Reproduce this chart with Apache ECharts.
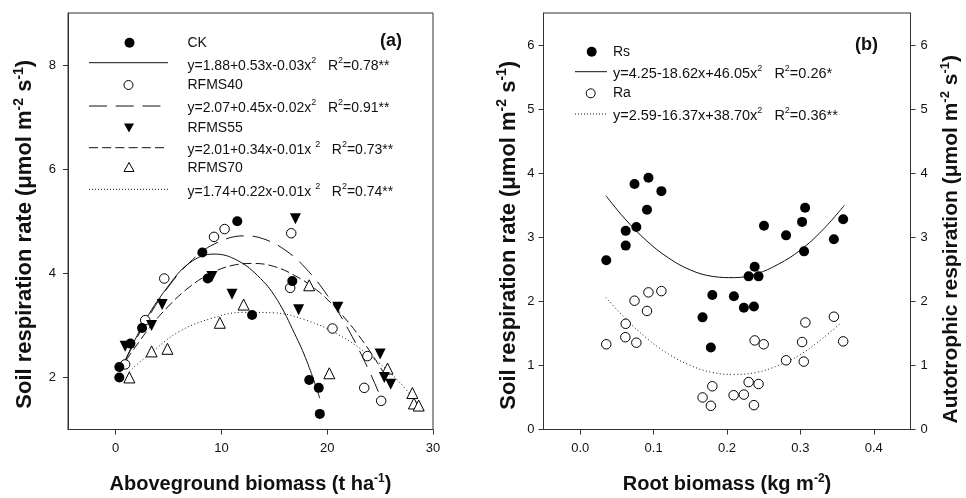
<!DOCTYPE html>
<html><head><meta charset="utf-8">
<script src="https://cdn.jsdelivr.net/npm/echarts@6/dist/echarts.min.js"></script>
<style>html,body{margin:0;padding:0;background:#fff}#c{width:966px;height:498px}</style>
</head><body><div id="c"></div>
<script>
// ---------- Panel (a) data: aboveground biomass (t ha-1) vs soil respiration ----------
const ckPts = [[11.5,5.0],[8.2,4.4],[8.7,3.9],[2.5,2.95],[1.4,2.65],[0.35,2.2],[0.35,2.0],[12.9,3.2],[16.7,3.85],[18.3,1.95],[19.2,1.8],[19.3,1.3]];
const r40Pts = [[10.3,4.85],[9.3,4.7],[4.6,3.9],[2.8,3.1],[0.9,2.25],[16.6,4.77],[16.5,3.72],[20.5,2.94],[23.8,2.41],[23.5,1.8],[25.1,1.55]];
const r55Pts = [[17.0,5.05],[9.1,3.94],[11.0,3.6],[4.4,3.4],[3.4,3.0],[0.9,2.6],[17.3,3.3],[21.0,3.35],[25.0,2.45],[25.4,2.0],[26.0,1.87]];
const r70Pts = [[1.3,2.0],[3.4,2.5],[4.9,2.55],[9.85,3.05],[12.1,3.4],[18.3,3.77],[20.2,2.08],[25.7,2.17],[28.05,1.7],[28.2,1.5],[28.65,1.46]];
// fitted curves
const ckFit = [[0.4,2.1],[2.6,3.02],[4.85,3.72],[7.0,4.2],[9.3,4.37],[11.5,4.25],[13.7,3.9],[15.3,3.48],[16.9,2.85],[18.1,2.3],[19.3,1.6]];
const r40Fit = [[0.9,2.32],[2.8,3.05],[4.8,3.69],[7.0,4.21],[9.3,4.56],[12.2,4.72],[14.0,4.66],[16.0,4.45],[18.0,4.09],[20.0,3.58],[22.0,2.92],[24.0,2.11],[25.3,1.5]];
const r55Fit = [[1.0,2.33],[3.0,2.9],[5.0,3.37],[7.0,3.74],[9.0,4.0],[11.0,4.15],[13.0,4.19],[15.0,4.13],[17.0,3.95],[19.0,3.68],[21.0,3.29],[23.0,2.8],[25.0,2.2],[26.1,1.82]];
const r70Fit = [[1.3,2.12],[3.5,2.5],[6.0,2.88],[9.0,3.13],[12.0,3.25],[15.0,3.24],[18.0,3.1],[21.0,2.83],[24.0,2.42],[26.5,1.98],[28.6,1.48]];

// ---------- Panel (b) data: root biomass (kg m-2) ----------
const rsPts = [[0.0355,2.64],[0.062,3.10],[0.062,2.87],[0.074,3.83],[0.0765,3.16],[0.091,3.43],[0.093,3.93],[0.1106,3.72],[0.1667,1.75],[0.180,2.10],[0.178,1.28],[0.2094,2.08],[0.223,1.90],[0.2367,1.92],[0.2295,2.39],[0.243,2.39],[0.2377,2.54],[0.2504,3.18],[0.2805,3.03],[0.3023,3.24],[0.3064,3.46],[0.305,2.78],[0.3456,2.97],[0.3583,3.28]];
const raPts = [[0.0355,1.33],[0.0615,1.44],[0.062,1.65],[0.0765,1.355],[0.074,2.01],[0.091,1.85],[0.093,2.14],[0.1106,2.16],[0.1667,0.50],[0.180,0.675],[0.178,0.37],[0.209,0.535],[0.223,0.545],[0.2295,0.74],[0.243,0.71],[0.2367,0.38],[0.2377,1.39],[0.25,1.33],[0.2805,1.08],[0.3023,1.365],[0.3068,1.67],[0.3046,1.06],[0.3456,1.76],[0.3583,1.375]];
const rsFit = [[0.035,3.65],[0.06,3.30],[0.09,2.95],[0.12,2.68],[0.15,2.49],[0.18,2.39],[0.21,2.37],[0.24,2.43],[0.27,2.58],[0.30,2.80],[0.33,3.11],[0.36,3.50]];
const raFit = [[0.035,2.06],[0.06,1.75],[0.09,1.43],[0.12,1.18],[0.15,1.00],[0.18,0.89],[0.21,0.86],[0.24,0.89],[0.27,1.00],[0.30,1.17],[0.33,1.42],[0.355,1.66]];

// ---------- ticks ----------
const xTicksA = [0,10,20,30];
const yTicksA = [2,4,6,8];
const xTicksB = [0,0.1,0.2,0.3,0.4];
const yTicksB = [0,1,2,3,4,5,6];

// ---------- legend texts ----------
const legendA = ['CK','y=1.88+0.53x-0.03x{s|2}   R{s|2}=0.78**','RFMS40','y=2.07+0.45x-0.02x{s|2}   R{s|2}=0.91**','RFMS55','y=2.01+0.34x-0.01x {s|2}   R{s|2}=0.73**','RFMS70','y=1.74+0.22x-0.01x {s|2}   R{s|2}=0.74**'];
const legendB = ['Rs','y=4.25-18.62x+46.05x{s|2}   R{s|2}=0.26*','Ra','y=2.59-16.37x+38.70x{s|2}   R{s|2}=0.36**'];

const FONT = '"Liberation Sans", Arial, Helvetica, sans-serif';
const AX = '#333';
function nameStyle(size, pad){
  return {fontSize:size, fontWeight:'bold', fontFamily:FONT, color:'#111', lineHeight:Math.round(size*1.2), padding:pad||0,
    rich:{s:{fontSize:Math.round(size*0.62), fontWeight:'bold', fontFamily:FONT, color:'#111', lineHeight:Math.round(size*0.6), verticalAlign:'top'}}};
}
function axisCommon(ticks, margin, fmt){
  return {
    axisLine:{show:true, onZero:false, lineStyle:{color:AX, width:1}},
    axisTick:{show:true, length:5, inside:false, lineStyle:{color:AX, width:1}, customValues:ticks},
    axisLabel:{customValues:ticks, fontSize:13, color:'#111', fontFamily:FONT, margin:margin, formatter:fmt},
    splitLine:{show:false}
  };
}
const legRich = {s:{fontSize:9, fontFamily:FONT, color:'#111', lineHeight:10, verticalAlign:'top'}};
function txt(x,y,t,size,bold){
  return {type:'text', x:x, y:y, z:100, style:{text:t, fontSize:size, fontFamily:FONT, fontWeight:bold?'bold':'normal', fill:'#111', align:'left', verticalAlign:'middle', lineHeight:20, rich:legRich}};
}
function seg(x1,x2,y,dash){
  return {type:'line', z:100, shape:{x1:x1,y1:y,x2:x2,y2:y}, style:{stroke:'#111', lineWidth:1, lineDash:dash}};
}
const graphics = [
  {type:'circle', z:100, shape:{cx:129.5, cy:42.7, r:5}, style:{fill:'#000'}},
  txt(187.5,42.7,legendA[0],14),
  seg(89,168,62.7,null), txt(187.5,66.5,legendA[1],14),
  {type:'circle', z:100, shape:{cx:128.5, cy:85, r:4.5}, style:{fill:'#fff', stroke:'#000', lineWidth:1}},
  txt(187.5,85,legendA[2],14),
  seg(89,168,106,[18,8.7]), txt(187.5,108.3,legendA[3],14),
  {type:'polygon', z:100, shape:{points:[[124,123.5],[134,123.5],[129,132.5]]}, style:{fill:'#000'}},
  txt(187.5,127.7,legendA[4],14),
  seg(89,168,147.7,[9,4.2]), txt(187.5,150,legendA[5],14),
  {type:'polygon', z:100, shape:{points:[[124,171.5],[134,171.5],[129,162.5]]}, style:{fill:'#fff', stroke:'#000', lineWidth:1}},
  txt(187.5,168.3,legendA[6],14),
  seg(89,168,189.3,[1,2]), txt(187.5,191.7,legendA[7],14),
  txt(380,41,'(a)',18,true),
  {type:'circle', z:100, shape:{cx:591.7, cy:51.7, r:5}, style:{fill:'#000'}},
  txt(613,51.7,legendB[0],14),
  seg(575,607,71.7,null), txt(613,73.8,legendB[1],14.5),
  {type:'circle', z:100, shape:{cx:590.7, cy:93.3, r:4.5}, style:{fill:'#fff', stroke:'#000', lineWidth:1}},
  txt(613,93.3,legendB[2],14),
  seg(575,607,114,[1,2]), txt(613,116.3,legendB[3],14.5),
  txt(855,45,'(b)',18,true)
];

const chart = echarts.init(document.getElementById('c'), null, {renderer:'canvas'});
const lineS = (name, data, xi, yi, dash) => ({name, type:'line', xAxisIndex:xi, yAxisIndex:yi, data, smooth:0.4, showSymbol:false, symbol:'none', silent:true, z:2,
  lineStyle:{color:'#111', width:1, type:dash||'solid'}});
const scatS = (name, data, xi, yi, sym, size, filled, rot) => ({name, type:'scatter', xAxisIndex:xi, yAxisIndex:yi, data, symbol:sym, symbolSize:size, symbolRotate:rot||0, z:5,
  itemStyle:{color:filled?'#000':'#fff', borderColor:'#000', borderWidth:filled?0:1, opacity:1}});

chart.setOption({
  animation:false,
  backgroundColor:'#fff',
  textStyle:{fontFamily:FONT},
  grid:[
    {left:68, top:13, width:365, height:416.5, show:true, borderColor:AX, borderWidth:1, backgroundColor:'transparent', containLabel:false, outerBoundsMode:'none'},
    {left:543.5, top:13, width:367, height:416.5, show:true, borderColor:AX, borderWidth:1, backgroundColor:'transparent', containLabel:false, outerBoundsMode:'none'}
  ],
  xAxis:[
    Object.assign({type:'value', gridIndex:0, min:-4.5, max:30, name:'Aboveground biomass (t ha{s|-1})', nameLocation:'middle', nameGap:43, nameTextStyle:nameStyle(20)}, axisCommon(xTicksA,12)),
    Object.assign({type:'value', gridIndex:1, min:-0.05, max:0.45, name:'Root biomass (kg m{s|-2})', nameLocation:'middle', nameGap:43, nameTextStyle:nameStyle(20)}, axisCommon(xTicksB,12,v=>v.toFixed(1)))
  ],
  yAxis:[
    Object.assign({type:'value', gridIndex:0, min:1, max:9, name:'Soil respiration rate (μmol m{s|-2} s{s|-1})', nameLocation:'middle', nameGap:30, nameTextStyle:nameStyle(22,[0,26,0,0])}, axisCommon(yTicksA,12)),
    Object.assign({type:'value', gridIndex:1, min:0, max:6.5, position:'left', name:'Soil respiration rate (μmol m{s|-2} s{s|-1})', nameLocation:'middle', nameGap:22, nameTextStyle:nameStyle(22,[0,28,0,0])}, axisCommon(yTicksB,9)),
    Object.assign({type:'value', gridIndex:1, min:0, max:6.5, position:'right', name:'Autotrophic respiration (μmol m{s|-2} s{s|-1})', nameLocation:'middle', nameGap:28, nameTextStyle:nameStyle(21,[0,36,0,0])}, axisCommon(yTicksB,10))
  ],
  series:[
    lineS('CK fit', ckFit, 0, 0, 'solid'),
    lineS('RFMS40 fit', r40Fit, 0, 0, [18,9]),
    lineS('RFMS55 fit', r55Fit, 0, 0, [9,4]),
    lineS('RFMS70 fit', r70Fit, 0, 0, [1,2.5]),
    scatS('RFMS70', r70Pts, 0, 0, 'triangle', 11, false),
    scatS('RFMS40', r40Pts, 0, 0, 'circle', 9.5, false),
    scatS('RFMS55', r55Pts, 0, 0, 'triangle', 11, true, 180),
    scatS('CK', ckPts, 0, 0, 'circle', 10, true),
    lineS('Rs fit', rsFit, 1, 1, 'solid'),
    lineS('Ra fit', raFit, 1, 1, [1,2.5]),
    scatS('Ra', raPts, 1, 1, 'circle', 9.5, false),
    scatS('Rs', rsPts, 1, 1, 'circle', 10, true)
  ],
  graphic: graphics
});
</script>
</body></html>
